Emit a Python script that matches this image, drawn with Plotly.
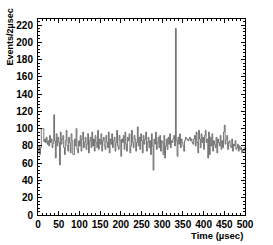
import plotly.graph_objects as go

# Histogram: 250 bins of 2 usec from 0 to 500 usec
bin_width = 2
counts_0_100 = [
    72, 80, 70, 78, 100, 100, 100, 85, 88, 84,
    90, 82, 86, 80, 92, 84, 88, 78, 83, 116,
    86, 66, 94, 80, 90, 84, 58, 96, 82, 88,
    92, 78, 70, 86, 98, 80, 74, 90, 84, 72,
    94, 86, 70, 70, 88, 80, 100, 76, 72, 86,
]
counts_100_200 = [
    80, 92, 74, 88, 96, 78, 84, 90, 76, 82,
    94, 72, 86, 90, 78, 96, 80, 88, 74, 92,
    84, 78, 98, 76, 88, 82, 94, 74, 86, 90,
    80, 76, 92, 84, 78, 96, 72, 88, 82, 94,
    78, 86, 90, 74, 84, 98, 80, 76, 92, 86,
]
counts_200_300 = [
    68, 88, 84, 92, 76, 96, 82, 74, 90, 86,
    94, 72, 80, 98, 84, 78, 92, 88, 74, 84,
    102, 80, 90, 76, 94, 86, 72, 92, 82, 88,
    96, 74, 84, 90, 78, 86, 70, 94, 80, 52,
    88, 82, 96, 76, 84, 90, 78, 92, 74, 86,
]
counts_300_400 = [
    84, 70, 92, 66, 80, 88, 76, 90, 82, 94,
    78, 86, 84, 88, 92, 80, 216, 86, 68, 90,
    82, 94, 78, 88, 84, 80, 74, 86, 90, 88,
    88, 86, 88, 90, 86, 88, 84, 82, 88, 92,
    80, 96, 84, 72, 98, 88, 78, 94, 84, 90,
]
counts_400_500 = [
    76, 92, 98, 84, 88, 66, 96, 70, 90, 80,
    94, 74, 86, 82, 78, 90, 72, 88, 84, 80,
    92, 76, 86, 78, 96, 104, 82, 88, 92, 76,
    84, 86, 80, 78, 88, 74, 82, 80, 86, 76,
    78, 82, 74, 80, 76, 78, 72, 76, 74, 78,
]
counts = counts_0_100 + counts_100_200 + counts_200_300 + counts_300_400 + counts_400_500
edges = [i * bin_width for i in range(len(counts) + 1)]
y_step = counts + [counts[-1]]

x_title = "Time (\u00b5sec)"
y_title = "Events/2\u00b5sec"

FONT = "Liberation Sans, Arial, sans-serif"

fig = go.Figure()
fig.add_trace(go.Scatter(
    x=edges, y=y_step, mode="lines", line_shape="hv",
    line=dict(color="#555555", width=0.8), showlegend=False, hoverinfo="skip",
))

axis_common = dict(
    showgrid=False, zeroline=False, showline=True, linecolor="black", linewidth=1,
    mirror="allticks", ticks="inside", ticklen=4, tickcolor="black", tickwidth=1,
    automargin=False,
    tickfont=dict(family=FONT, size=10, color="black", weight="bold"),
)
fig.update_xaxes(range=[0, 500], dtick=50, tick0=0,
                 minor=dict(dtick=10, ticks="inside", ticklen=2, tickcolor="black"),
                 ticklabelstandoff=0, **axis_common)
fig.update_yaxes(range=[0, 227], dtick=20, tick0=0,
                 minor=dict(dtick=4, ticks="inside", ticklen=2, tickcolor="black"),
                 ticklabelstandoff=2, **axis_common)

fig.add_annotation(text="<b>" + x_title + "</b>", xref="paper", yref="paper",
                   x=1, y=0, xanchor="right", yanchor="top", yshift=-13, showarrow=False,
                   font=dict(family=FONT, size=9.5, color="black"))
fig.add_annotation(text="<b>" + y_title + "</b>", xref="paper", yref="paper",
                   x=0, y=1, xanchor="right", yanchor="top", xshift=-22, yshift=12,
                   showarrow=False, textangle=-90,
                   font=dict(family=FONT, size=9, color="black"))

fig.update_layout(
    width=273, height=245,
    margin=dict(l=38, r=28, t=19, b=30),
    paper_bgcolor="white", plot_bgcolor="white",
    font=dict(family=FONT, size=10, color="black"),
)
fig.write_html("out.html", config={"displayModeBar": False, "staticPlot": True},
               post_script="document.body.style.margin='0';document.body.style.overflow='hidden';")
